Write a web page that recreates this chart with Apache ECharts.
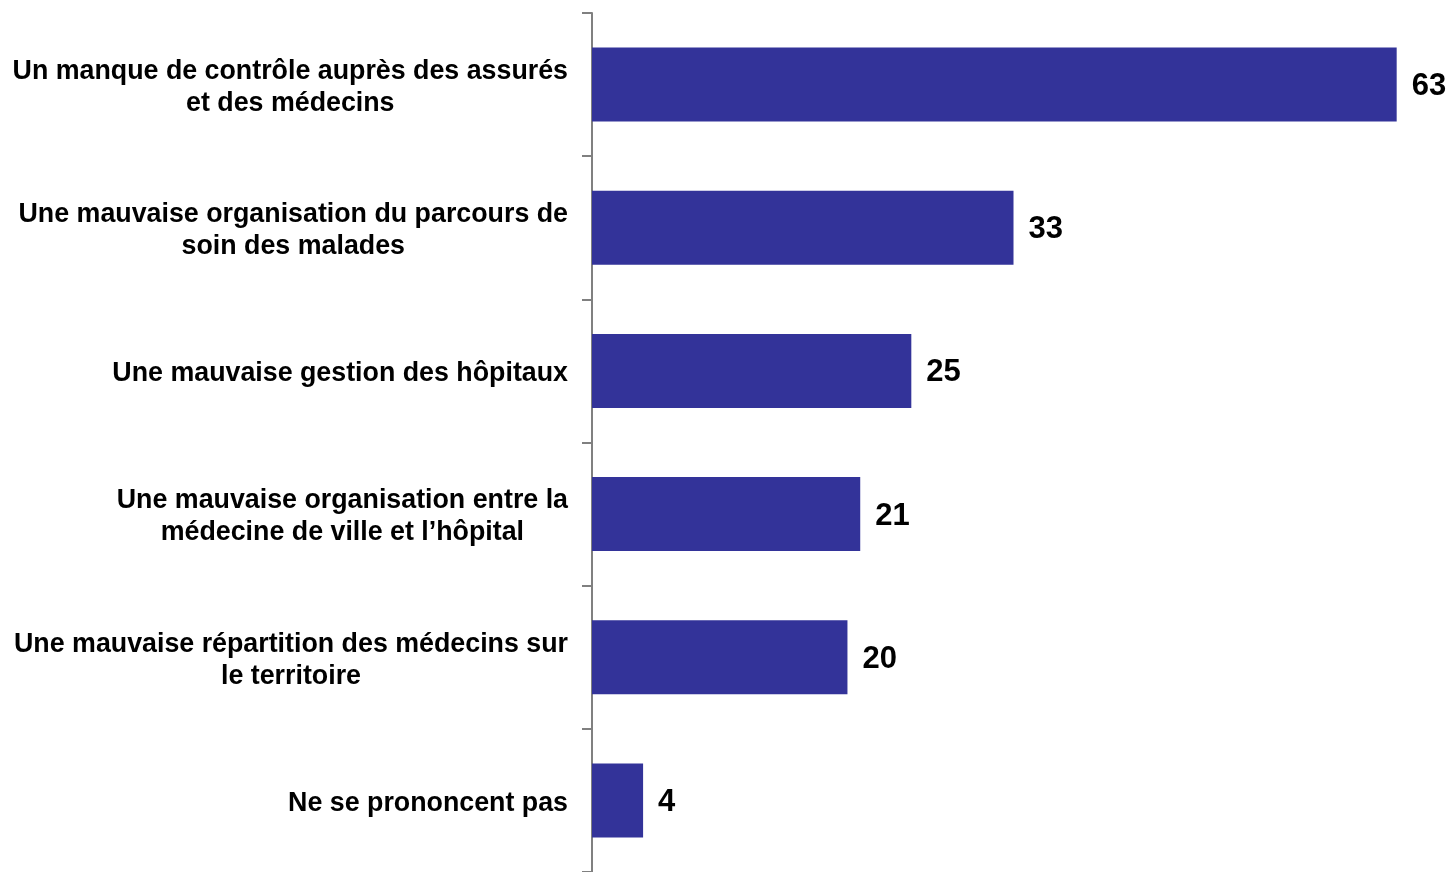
<!DOCTYPE html>
<html><head><meta charset="utf-8">
<script src="https://cdn.jsdelivr.net/npm/echarts@6/dist/echarts.min.js"></script>
<style>html,body{margin:0;padding:0;background:#fff}#c{width:1451px;height:872px}</style>
</head><body><div id="c"></div>
<script>
const categories = [
  "Un manque de contrôle auprès des assurés\net des médecins",
  "Une mauvaise organisation du parcours de\nsoin des malades",
  "Une mauvaise gestion des hôpitaux",
  "Une mauvaise organisation entre la\nmédecine de ville et l’hôpital",
  "Une mauvaise répartition des médecins sur\nle territoire",
  "Ne se prononcent pas"
];
const values = [63, 33, 25, 21, 20, 4];

const chart = echarts.init(document.getElementById('c'));
chart.setOption({
  animation: false,
  grid: { left: 592, top: 13, width: 843, height: 862, containLabel: false },
  xAxis: { type: 'value', min: 0, max: 66, show: false },
  yAxis: {
    type: 'category', data: categories, inverse: true,
    axisLine: { lineStyle: { color: '#808080', width: 2 } },
    axisTick: { show: true, length: 10, lineStyle: { color: '#808080', width: 2 } },
    axisLabel: {
      margin: 24, align: 'right', padding: [6, 0, 0, 0],
      formatter: v => v.split('\n').map(l => '{c|' + l + '}').join('\n'),
      rich: { c: { align: 'center', fontFamily: 'Liberation Sans, Arial', fontWeight: 'bold', fontSize: 26.8, color: '#000', lineHeight: 32 } }
    }
  },
  series: [{
    type: 'bar', data: values, barWidth: 74,
    itemStyle: { color: '#333399' },
    label: { show: true, position: 'right', distance: 15, color: '#000', offset: [0, 2],
      fontFamily: 'Liberation Sans, Arial', fontWeight: 'bold', fontSize: 31 }
  }]
});
</script></body></html>
